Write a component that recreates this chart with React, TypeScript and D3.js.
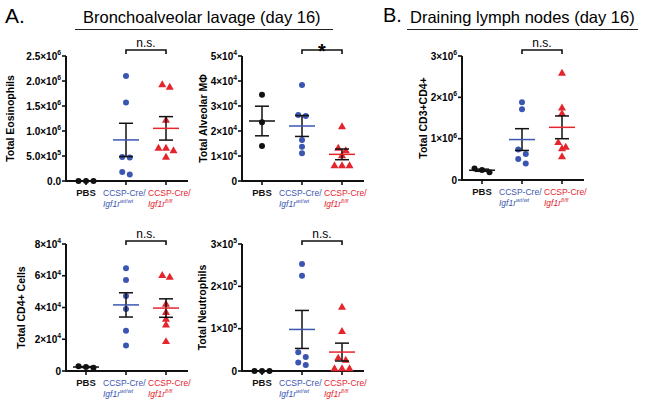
import * as d3 from 'd3';
import { useEffect, useRef } from 'react';

const groups = ['PBS', 'wt', 'fl'];
const groupColors = ['#111111', '#3b56b0', '#e5252d'];
const groupLine1 = ['PBS', 'CCSP-Cre/', 'CCSP-Cre/'];
const groupLine2 = ['', 'Igf1r^wt/wt', 'Igf1r^fl/fl'];

// A. bronchoalveolar lavage
const eosPBS = [0, 0, 0];
const eosWt = [2.1e6, 1.57e6, 0.48e6, 0.47e6, 0.18e6, 0.13e6];
const eosFl = [1.92e6, 1.87e6, 1.21e6, 0.65e6, 0.6e6, 0.65e6, 0.47e6];
const eosTicks = [0, 5e5, 1e6, 1.5e6, 2e6, 2.5e6];
const eosTickLabels = ['0.0', '5.0×10^5', '1.0×10^6', '1.5×10^6', '2.0×10^6', '2.5×10^6'];

const amPBS = [3.45e4, 2.35e4, 1.4e4];
const amWt = [3.84e4, 2.64e4, 2.6e4, 1.64e4, 1.37e4, 1.11e4];
const amFl = [2.16e4, 1.3e4, 1.2e4, 1.0e4, 0.6e4, 0.6e4, 0.6e4];
const amTicks = [0, 1e4, 2e4, 3e4, 4e4, 5e4];
const amTickLabels = ['0', '1×10^4', '2×10^4', '3×10^4', '4×10^4', '5×10^4'];

const cd4PBS = [0.25e4, 0.3e4, 0.2e4];
const cd4Wt = [6.48e4, 5.74e4, 4.73e4, 3.9e4, 2.53e4, 1.6e4];
const cd4Fl = [5.9e4, 6.0e4, 4.2e4, 3.67e4, 3.25e4, 2.89e4, 1.84e4];
const cd4Ticks = [0, 2e4, 4e4, 6e4, 8e4];
const cd4TickLabels = ['0', '2×10^4', '4×10^4', '6×10^4', '8×10^4'];

const neuPBS = [0, 0, 0];
const neuWt = [2.53e5, 2.25e5, 0.44e5, 0.33e5, 0.2e5, 0.14e5];
const neuFl = [1.5e5, 0.93e5, 0.3e5, 0.25e5, 0.05e5, 0.05e5, 0.05e5];
const neuTicks = [0, 1e5, 2e5, 3e5];
const neuTickLabels = ['0', '1×10^5', '2×10^5', '3×10^5'];

// B. draining lymph nodes
const lnPBS = [0.19e6, 0.28e6, 0.24e6];
const lnWt = [1.88e6, 1.71e6, 0.74e6, 0.63e6, 0.51e6, 0.4e6];
const lnFl = [2.58e6, 1.74e6, 1.6e6, 0.9e6, 0.79e6, 0.75e6, 0.56e6];
const lnTicks = [0, 1e6, 2e6, 3e6];
const lnTickLabels = ['0', '1×10^6', '2×10^6', '3×10^6'];

const panels = [
  { x: 66, top: 56, bottom: 181, ticks: eosTicks, labels: eosTickLabels, title: 'Total Eosinophils', titleDx: -52, values: [eosPBS, eosWt, eosFl], sig: 'n.s.', bracketY: 50 },
  { x: 242, top: 56, bottom: 181, ticks: amTicks, labels: amTickLabels, title: 'Total Alveolar MΦ', titleDx: -35, values: [amPBS, amWt, amFl], sig: '*', bracketY: 50 },
  { x: 462, top: 56, bottom: 180, ticks: lnTicks, labels: lnTickLabels, title: 'Total CD3+CD4+', titleDx: -35, values: [lnPBS, lnWt, lnFl], sig: 'n.s.', bracketY: 50 },
  { x: 66, top: 244, bottom: 371, ticks: cd4Ticks, labels: cd4TickLabels, title: 'Total CD4+ Cells', titleDx: -41, values: [cd4PBS, cd4Wt, cd4Fl], sig: 'n.s.', bracketY: 241 },
  { x: 242, top: 244, bottom: 371, ticks: neuTicks, labels: neuTickLabels, title: 'Total Neutrophils', titleDx: -36, values: [neuPBS, neuWt, neuFl], sig: 'n.s.', bracketY: 241 },
];

const FONT = 'Helvetica, Arial, "Liberation Sans", sans-serif';
// label start, relative to the group tick (prism pushes them apart a bit)
const labelShift = [0, -23, -18];

// write "2×10^4" as text with a superscript
const supText = (sel, label, size) => {
  const [m, e] = label.split('^');
  sel.text(m);
  if (e) sel.append('tspan').attr('dy', -size * 0.45).attr('font-size', size * 0.68).text(e);
};

// spread points of similar height sideways, like prism does
const swarm = (vals, y, gap) => {
  const order = d3.range(vals.length).sort((a, b) => y(vals[a]) - y(vals[b]));
  const off = new Array(vals.length).fill(0);
  let i = 0;
  while (i < order.length) {
    let j = i + 1;
    while (j < order.length && y(vals[order[j]]) - y(vals[order[i]]) < 5) j++;
    const n = j - i;
    for (let k = i; k < j; k++) off[order[k]] = (k - i - (n - 1) / 2) * gap;
    i = j;
  }
  return off;
};

const App = () => {
  const svgRef = useRef(null);

  useEffect(() => {
    const svg = d3.select(svgRef.current);
    svg.selectAll('*').remove();
    svg.attr('font-family', FONT);

    // headings
    svg.append('text').attr('x', 5).attr('y', 23).attr('font-size', 21).text('A.');
    svg.append('text').attr('x', 83).attr('y', 23).attr('font-size', 16.5).text('Bronchoalveolar lavage (day 16)');
    svg.append('line').attr('x1', 75).attr('x2', 333).attr('y1', 29.5).attr('y2', 29.5).attr('stroke', '#222').attr('stroke-width', 1.2);
    svg.append('text').attr('x', 383).attr('y', 22).attr('font-size', 20).text('B.');
    svg.append('text').attr('x', 410).attr('y', 23).attr('font-size', 16.5).text('Draining lymph nodes (day 16)');
    svg.append('line').attr('x1', 407).attr('x2', 638).attr('y1', 29.5).attr('y2', 29.5).attr('stroke', '#222').attr('stroke-width', 1.2);

    panels.forEach((p) => {
      const g = svg.append('g');
      const y = d3.scaleLinear([0, d3.max(p.ticks)], [p.bottom, p.top]);
      const x = d3.scalePoint(groups, [p.x + 20, p.x + 100]);
      const right = x('fl') + 22;

      // y axis
      g.append('line').attr('x1', p.x).attr('x2', p.x).attr('y1', p.top).attr('y2', p.bottom)
        .attr('stroke', '#111').attr('stroke-width', 2);
      p.ticks.forEach((t, i) => {
        g.append('line').attr('x1', p.x - 4).attr('x2', p.x).attr('y1', y(t)).attr('y2', y(t))
          .attr('stroke', '#111').attr('stroke-width', 1.6);
        g.append('text').attr('x', p.x - 5).attr('y', y(t) + 3.5).attr('text-anchor', 'end')
          .attr('font-size', 10).attr('font-weight', 'bold')
          .call((s) => supText(s, p.labels[i], 10));
      });
      g.append('text')
        .attr('transform', `translate(${p.x + p.titleDx},${(p.top + p.bottom) / 2}) rotate(-90)`)
        .attr('text-anchor', 'middle').attr('font-size', 10.5).attr('font-weight', 'bold').text(p.title);

      // x axis
      g.append('line').attr('x1', p.x - 1).attr('x2', right).attr('y1', p.bottom).attr('y2', p.bottom)
        .attr('stroke', '#111').attr('stroke-width', 2);
      groups.forEach((k, i) => {
        const gx = x(k);
        g.append('line').attr('x1', gx).attr('x2', gx).attr('y1', p.bottom).attr('y2', p.bottom + 4)
          .attr('stroke', '#111').attr('stroke-width', 1.6);
        if (i === 0) {
          g.append('text').attr('x', gx).attr('y', p.bottom + 15).attr('text-anchor', 'middle')
            .attr('font-size', 9.5).attr('font-weight', 'bold')
            .attr('fill', groupColors[i]).text(groupLine1[i]);
        } else {
          g.append('text').attr('x', gx + labelShift[i]).attr('y', p.bottom + 15)
            .attr('font-size', 8.5).attr('fill', groupColors[i]).text(groupLine1[i]);
          g.append('text').attr('x', gx + labelShift[i]).attr('y', p.bottom + 25.5)
            .attr('font-size', 8.5).attr('font-style', 'italic').attr('fill', groupColors[i])
            .call((s) => supText(s, groupLine2[i], 8.5));
        }
      });

      // points
      p.values.forEach((vals, i) => {
        const gx = x(groups[i]);
        const off = swarm(vals, y, 7.5);
        vals.forEach((v, j) => {
          if (i === 2) {
            g.append('path').attr('d', d3.symbol(d3.symbolTriangle, 28)())
              .attr('transform', `translate(${gx + off[j]},${y(v)})`).attr('fill', groupColors[i]);
          } else {
            g.append('circle').attr('cx', gx + off[j]).attr('cy', y(v)).attr('r', 3)
              .attr('fill', groupColors[i]);
          }
        });
      });

      // mean and SEM
      p.values.forEach((vals, i) => {
        const gx = x(groups[i]);
        const m = d3.mean(vals);
        const sem = d3.deviation(vals) / Math.sqrt(vals.length);
        const lo = y(m - sem);
        const hi = y(m + sem);
        const semG = g.append('g').attr('stroke', '#111').attr('stroke-width', 1.5);
        semG.append('line').attr('x1', gx).attr('x2', gx).attr('y1', lo).attr('y2', hi);
        semG.append('line').attr('x1', gx - 7).attr('x2', gx + 7).attr('y1', lo).attr('y2', lo);
        semG.append('line').attr('x1', gx - 7).attr('x2', gx + 7).attr('y1', hi).attr('y2', hi);
        g.append('line').attr('x1', gx - 13).attr('x2', gx + 13).attr('y1', y(m)).attr('y2', y(m))
          .attr('stroke', i === 0 ? '#111' : groupColors[i]).attr('stroke-width', 1.5);
      });

      // significance bracket
      const x1 = x('wt');
      const x2 = x('fl');
      g.append('path')
        .attr('d', `M${x1},${p.bracketY + 4}V${p.bracketY}H${x2}V${p.bracketY + 4}`)
        .attr('fill', 'none').attr('stroke', '#111').attr('stroke-width', 1.6);
      if (p.sig === '*') {
        g.append('text').attr('x', (x1 + x2) / 2).attr('y', p.bracketY + 8).attr('text-anchor', 'middle')
          .attr('font-size', 20).attr('font-weight', 'bold').text('*');
      } else {
        g.append('text').attr('x', (x1 + x2) / 2).attr('y', p.bracketY - 3.5).attr('text-anchor', 'middle')
          .attr('font-size', 12).text(p.sig);
      }
    });
  }, []);

  return (
    <svg
      ref={svgRef}
      width={645}
      height={405}
      style={{ position: 'absolute', left: 0, top: 0, background: '#fff' }}
    />
  );
};

export default App;
